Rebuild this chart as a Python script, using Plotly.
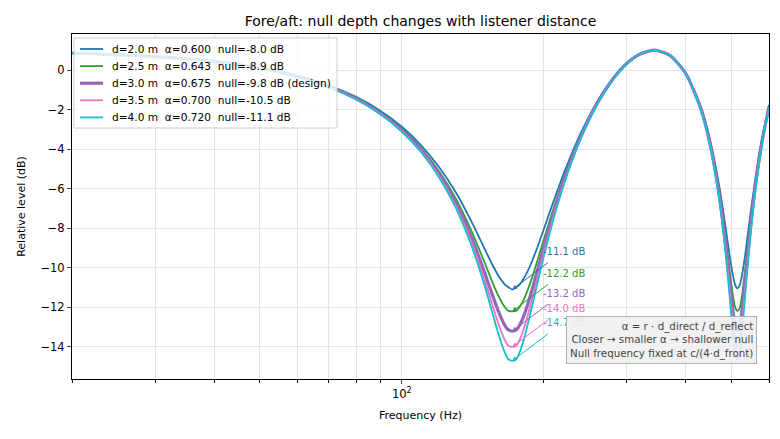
import plotly.graph_objects as go
import numpy as np

# frequency grid (Hz) and the level (dB)
freq_hz = [20, 30, 40, 50, 60, 70, 80, 90, 100, 110, 120, 130, 140, 150, 155, 160, 165, 168,
           171.5, 175, 178, 182, 188, 195, 205, 220, 240, 260, 280, 300, 320, 343, 370, 400,
           430, 450, 470, 485, 495, 502, 508, 514.5, 520, 526, 535, 545, 560, 580, 600]

level_d20 = [0.86, 0.69, 0.44, 0.12, -0.28, -0.77, -1.36, -2.06, -2.87, -3.82, -4.92, -6.17, -7.59,
             -9.07, -9.77, -10.38, -10.82, -10.97, -11.10, -10.97, -10.82, -10.48, -9.77, -8.78,
             -7.30, -5.28, -3.14, -1.56, -0.42, 0.36, 0.82, 1.00, 0.75, -0.15, -1.84, -3.52, -5.78,
             -7.88, -9.36, -10.27, -10.82, -11.04, -10.88, -10.38, -9.22, -7.74, -5.65, -3.42, -1.76]
level_d25 = [0.86, 0.68, 0.43, 0.10, -0.31, -0.81, -1.41, -2.13, -2.97, -3.97, -5.13, -6.48, -8.06,
             -9.77, -10.63, -11.39, -11.96, -12.17, -12.20, -12.17, -11.96, -11.52, -10.63, -9.43,
             -7.73, -5.51, -3.25, -1.62, -0.45, 0.34, 0.82, 1.00, 0.74, -0.18, -1.90, -3.65, -6.06,
             -8.39, -10.12, -11.25, -11.96, -12.18, -12.04, -11.39, -9.95, -8.22, -5.92, -3.55, -1.83]
level_d30 = [0.86, 0.68, 0.43, 0.10, -0.32, -0.83, -1.45, -2.18, -3.04, -4.06, -5.26, -6.69, -8.37,
             -10.28, -11.26, -12.16, -12.87, -13.13, -13.20, -13.13, -12.87, -12.33, -11.26, -9.89,
             -8.02, -5.67, -3.33, -1.65, -0.47, 0.34, 0.81, 1.00, 0.74, -0.19, -1.94, -3.73, -6.24,
             -8.74, -10.67, -11.99, -12.87, -13.18, -12.97, -12.16, -10.48, -8.56, -6.09, -3.63, -1.87]
level_d35 = [0.86, 0.68, 0.42, 0.09, -0.33, -0.85, -1.47, -2.21, -3.08, -4.12, -5.36, -6.84, -8.60,
             -10.66, -11.75, -12.79, -13.61, -13.93, -14.00, -13.93, -13.61, -12.97, -11.75, -10.23,
             -8.23, -5.78, -3.38, -1.68, -0.48, 0.33, 0.81, 1.00, 0.74, -0.20, -1.97, -3.79, -6.37,
             -8.99, -11.10, -12.59, -13.61, -13.98, -13.74, -12.79, -10.88, -8.80, -6.22, -3.69, -1.90]
level_d40 = [0.86, 0.68, 0.42, 0.08, -0.34, -0.86, -1.48, -2.23, -3.12, -4.17, -5.43, -6.94, -8.78,
             -10.95, -12.14, -13.29, -14.24, -14.61, -14.70, -14.61, -14.24, -13.50, -12.14, -10.50,
             -8.39, -5.86, -3.41, -1.69, -0.49, 0.33, 0.81, 1.00, 0.74, -0.20, -1.99, -3.84, -6.46,
             -9.18, -11.43, -13.07, -14.24, -14.68, -14.38, -13.29, -11.19, -8.98, -6.31, -3.73, -1.92]

distances = [2.0, 2.5, 3.0, 3.5, 4.0]
alphas = [0.600, 0.643, 0.675, 0.700, 0.720]
nominal_null_db = [-8.0, -8.9, -9.8, -10.5, -11.1]
levels = [level_d20, level_d25, level_d30, level_d35, level_d40]
colors = ['#1f77b4', '#2ca02c', '#9467bd', '#e377c2', '#17becf']
design_distance = 3.0
null_freq = 171.5

minor_ticks = [20, 30, 40, 50, 60, 70, 80, 90, 200, 300, 400, 500, 600]

FONT = 'DejaVu Sans'
sp = '\u00a0\u00a0'
GRID = '#e3e3e3'

# the page puts the figure 8px in from the window corner, so margins are pulled in by that
OFF = 8
W, H = 780, 439
ML, MR, MT, MB = 72 - OFF, 11 + OFF, 34 - OFF, 60 + OFF
PW, PH = W - ML - MR, H - MT - MB


def px_x(px):
    return (px - OFF - ML) / PW


def px_y(py):
    return (H - MB - (py - OFF)) / PH


fig = go.Figure()

# legend box (matplotlib style, tighter rows than plotly's own legend)
fig.add_shape(type='rect', xref='paper', yref='paper', x0=px_x(74), x1=px_x(337),
              y0=px_y(128), y1=px_y(38), line=dict(color='#cccccc', width=1),
              fillcolor='rgba(255,255,255,0.8)', layer='above')

for i, (d, a, nn, lv, col) in enumerate(zip(distances, alphas, nominal_null_db, levels, colors)):
    is_design = d == design_distance
    label = f'd={d:.1f} m{sp}\u03b1={a:.3f}{sp}null={nn:.1f} dB' + (' (design)' if is_design else '')
    lw = 3.2 if is_design else 1.8
    fig.add_trace(go.Scatter(
        x=freq_hz, y=lv, mode='lines', name=label, showlegend=False,
        line=dict(color=col, width=lw, shape='spline', smoothing=0.6),
    ))
    row_y = 49 + i * 17.1
    fig.add_shape(type='line', xref='paper', yref='paper', x0=px_x(80), x1=px_x(103),
                  y0=px_y(row_y), y1=px_y(row_y), line=dict(color=col, width=lw), layer='above')
    fig.add_annotation(xref='paper', yref='paper', x=px_x(110), y=px_y(row_y), text=label,
                       showarrow=False, xanchor='left', yanchor='middle',
                       font=dict(family=FONT, size=10.6, color='black'))

# dotted marker of the null frequency
fig.add_shape(type='line', xref='x', yref='paper', x0=np.log10(null_freq), x1=np.log10(null_freq),
              y0=0, y1=1, line=dict(color='#999999', width=0.8, dash='dot'), layer='below')

# per-curve null depth callouts
idx = freq_hz.index(null_freq)
for lv, col in zip(levels, colors):
    depth = lv[idx]
    fig.add_annotation(x=np.log10(null_freq), y=depth, xref='x', yref='y', text='',
                       showarrow=True, ax=37, ay=-28, arrowhead=2, arrowsize=0.9,
                       arrowwidth=1, arrowcolor=col)
    fig.add_annotation(x=np.log10(null_freq), y=depth, xref='x', yref='y',
                       text=f'{depth:.1f} dB', showarrow=False, xanchor='left', yanchor='middle',
                       xshift=29, yshift=38, font=dict(family=FONT, size=10, color=col))

fig.add_annotation(
    xref='paper', yref='paper', x=px_x(757), y=px_y(364), xanchor='right', yanchor='bottom',
    text='\u03b1 = r \u00b7 d_direct / d_reflect<br>Closer \u2192 smaller \u03b1 \u2192 shallower null'
         '<br>Null frequency fixed at c/(4\u00b7d_front)',
    align='right', showarrow=False, font=dict(family=FONT, size=10.3, color='#444444'),
    bgcolor='rgba(240,240,240,0.9)', bordercolor='#b0b0b0', borderwidth=1, borderpad=3,
)

fig.update_layout(
    width=W, height=H,
    margin=dict(l=ML, r=MR, t=MT, b=MB),
    paper_bgcolor='white', plot_bgcolor='white',
    font=dict(family=FONT, size=11.5, color='black'),
    title=dict(text='Fore/aft: null depth changes with listener distance', x=0.5, xref='paper',
               xanchor='center', y=1 - (21 - OFF) / H, yref='container', yanchor='middle',
               font=dict(size=14), automargin=False),
    showlegend=False,
)

fig.update_xaxes(
    type='log', range=[np.log10(20), np.log10(600)], automargin=False,
    tickvals=[100], ticktext=['10<sup>2</sup>'], ticks='outside', ticklen=4,
    showgrid=True, gridcolor=GRID, gridwidth=1,
    minor=dict(tickvals=minor_ticks, ticks='outside', ticklen=2.5, showgrid=True,
               gridcolor=GRID, tickcolor='black'),
    showline=True, linecolor='black', linewidth=1, mirror=True, zeroline=False,
    title=dict(text='Frequency (Hz)', standoff=11, font=dict(size=11)),
)
fig.update_yaxes(
    range=[-15.62, 1.82], dtick=2, tick0=0, ticks='outside', ticklen=4, automargin=False,
    showgrid=True, gridcolor=GRID, gridwidth=1,
    showline=True, linecolor='black', linewidth=1, mirror=True, zeroline=False,
    title=dict(text='Relative level (dB)', standoff=12, font=dict(size=11)),
)

fig.write_html('out.html')
